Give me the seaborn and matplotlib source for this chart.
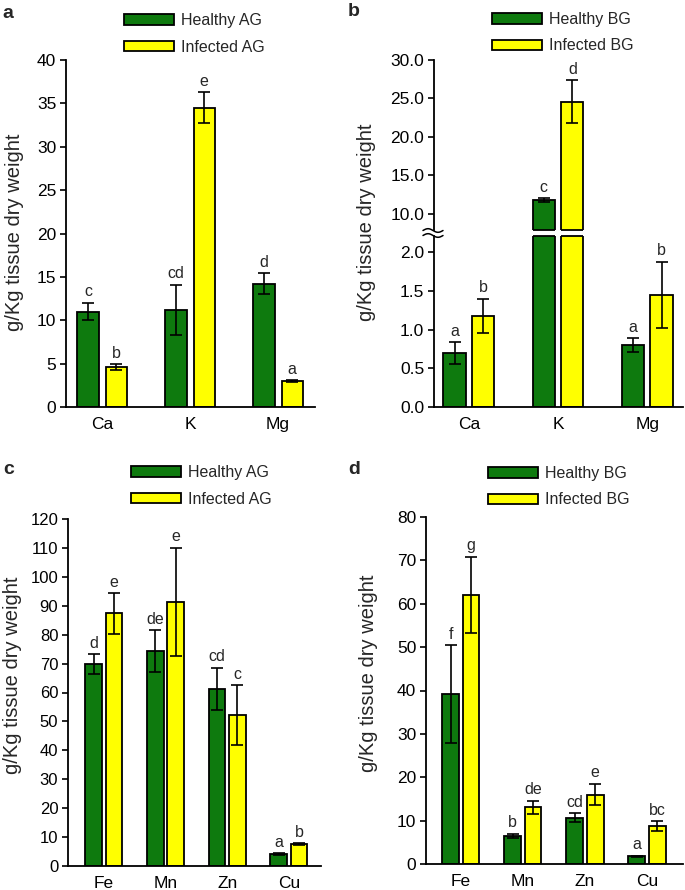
import matplotlib
matplotlib.use("Agg")
import matplotlib.pyplot as plt
from matplotlib.patches import Patch
from matplotlib.lines import Line2D
from matplotlib.ticker import FormatStrFormatter, MultipleLocator
import seaborn as sns
import pandas as pd
import numpy as np

sns.set_theme(style="ticks")
plt.rcParams['font.family'] = ['Liberation Sans', 'DejaVu Sans']

GREEN = '#0e7a0e'
YELLOW = '#ffff00'

# ---------------- data ----------------
macro = ["Ca", "K", "Mg"]
micro = ["Fe", "Mn", "Zn", "Cu"]

# panel a (above ground, macro)
a_healthy = [11.0, 11.2, 14.2]
a_healthy_err = [1.0, 2.9, 1.2]
a_infected = [4.6, 34.5, 3.0]
a_infected_err = [0.3, 1.8, 0.1]
a_letters_h = ["c", "cd", "d"]
a_letters_i = ["b", "e", "a"]

# panel b (below ground, macro)
b_healthy = [0.70, 11.8, 0.80]
b_healthy_err = [0.14, 0.25, 0.09]
b_infected = [1.18, 24.6, 1.45]
b_infected_err = [0.22, 2.8, 0.43]
b_letters_h = ["a", "c", "a"]
b_letters_i = ["b", "d", "b"]

# panel c (above ground, micro)
c_healthy = [69.8, 74.3, 61.2, 4.1]
c_healthy_err = [3.5, 7.2, 7.3, 0.3]
c_infected = [87.4, 91.3, 52.2, 7.5]
c_infected_err = [7.0, 18.7, 10.3, 0.3]
c_letters_h = ["d", "de", "cd", "a"]
c_letters_i = ["e", "e", "c", "b"]

# panel d (below ground, micro)
d_healthy = [39.1, 6.5, 10.7, 1.8]
d_healthy_err = [11.3, 0.5, 1.0, 0.1]
d_infected = [62.0, 13.1, 16.0, 8.7]
d_infected_err = [8.8, 1.5, 2.5, 1.1]
d_letters_h = ["f", "b", "cd", "a"]
d_letters_i = ["g", "de", "e", "bc"]

AG_labels = ["Healthy AG", "Infected AG"]
BG_labels = ["Healthy BG", "Infected BG"]

W, H = 685, 890
fig = plt.figure(figsize=(W / 100, H / 100), dpi=100)


def axes_px(l, t, r, b):
    return fig.add_axes([l / W, 1 - b / H, (r - l) / W, (b - t) / H])


def draw(ax, cats, hv, he, iv, ie, lh, li, labels, width, gap):
    n = len(cats)
    df = pd.DataFrame({
        "element": cats * 2,
        "group": [labels[0]] * n + [labels[1]] * n,
        "value": hv + iv,
    })
    sns.barplot(data=df, x="element", y="value", hue="group",
                palette=[GREEN, YELLOW], edgecolor="black", linewidth=1.3,
                width=width, gap=gap, errorbar=None, ax=ax, legend=False,
                saturation=1)
    bars = [p for p in ax.patches][:2 * n]
    for p, v, e, lt in zip(bars, hv + iv, he + ie, lh + li):
        xc = p.get_x() + p.get_width() / 2
        ax.errorbar(xc, v, yerr=e, fmt='none', ecolor='black',
                    elinewidth=1.2, capsize=4, capthick=1.2)
        ax.annotate(lt, (xc, v + e), xytext=(0, 2.5), textcoords='offset points',
                    ha='center', va='bottom', fontsize=11.5)
    ax.set_xlabel("")
    ax.set_ylabel("")
    return bars


def style(ax, ylab_size=12.5, xlab_size=12.5, bottom=True):
    sns.despine(ax=ax, bottom=not bottom)
    for s in ["left", "bottom"]:
        ax.spines[s].set_linewidth(1.3)
        ax.spines[s].set_color("black")
    ax.tick_params(axis='y', direction='out', length=4, width=1.2,
                   labelsize=ylab_size, colors='black', pad=3)
    ax.tick_params(axis='x', length=0, labelsize=xlab_size, pad=7, colors='black')


def legend(ax, labels, x, y):
    handles = [Patch(facecolor=GREEN, edgecolor='black', linewidth=1.3, label=labels[0]),
               Patch(facecolor=YELLOW, edgecolor='black', linewidth=1.3, label=labels[1])]
    ax.legend(handles=handles, loc='upper left', bbox_to_anchor=(x / W, 1 - y / H),
              bbox_transform=fig.transFigure, frameon=False, handlelength=3.1,
              handleheight=0.62, handletextpad=0.45, labelspacing=0.72,
              borderpad=0, borderaxespad=0, fontsize=11.5)


YLABEL = "g/Kg tissue dry weight"

# ---------- panel a ----------
ax_a = axes_px(66, 60, 315, 407)
draw(ax_a, macro, a_healthy, a_healthy_err, a_infected, a_infected_err,
     a_letters_h, a_letters_i, AG_labels, 0.64, 0.25)
ax_a.set_ylim(0, 40)
ax_a.set_xlim(-0.41, 2.42)
ax_a.yaxis.set_major_locator(MultipleLocator(5))
style(ax_a)
legend(ax_a, AG_labels, 124, 13)
fig.text(15 / W, 1 - 232 / H, YLABEL, rotation=90, ha='center', va='center', fontsize=14.5)
fig.text(8 / W, 1 - 14 / H, "a", fontsize=14, weight='bold', ha='center', va='center')

# ---------- panel b (broken axis) ----------
ax_bu = axes_px(434, 60, 683, 230)
ax_bl = axes_px(434, 236, 683, 407)
for axb, lo, hi in [(ax_bu, 7.92, 30), (ax_bl, 0, 2.21)]:
    bars = draw(axb, macro, b_healthy, b_healthy_err, b_infected, b_infected_err,
                b_letters_h, b_letters_i, BG_labels, 0.64, 0.22)
    axb.set_ylim(lo, hi)
    axb.set_xlim(-0.39, 2.40)
    # close bar outlines at the break
    for p in bars:
        top = p.get_y() + p.get_height()
        if top > hi and axb is ax_bl:
            axb.plot([p.get_x(), p.get_x() + p.get_width()], [hi, hi], color='black',
                     lw=1.3, clip_on=False, solid_capstyle='butt')
        if top > lo and axb is ax_bu:
            axb.plot([p.get_x(), p.get_x() + p.get_width()], [lo, lo], color='black',
                     lw=1.3, clip_on=False, solid_capstyle='butt')
style(ax_bu, bottom=False)
ax_bu.set_xticks([])
ax_bu.set_yticks([10, 15, 20, 25, 30])
ax_bu.yaxis.set_major_formatter(FormatStrFormatter('%.1f'))
style(ax_bl)
ax_bl.yaxis.set_major_locator(MultipleLocator(0.5))
ax_bl.yaxis.set_major_formatter(FormatStrFormatter('%.1f'))
legend(ax_bu, BG_labels, 492, 12)
fig.text(367 / W, 1 - 222 / H, YLABEL, rotation=90, ha='center', va='center', fontsize=14.5)
fig.text(354 / W, 1 - 12 / H, "b", fontsize=14, weight='bold', ha='center', va='center')

# break marks
xs = np.linspace(423, 443, 40)
for y0 in (230.5, 235.5):
    ys = y0 - 1.8 * np.sin((xs - 423) / 20 * 2 * np.pi)
    fig.add_artist(Line2D(xs / W, 1 - ys / H, color='black', lw=1.1,
                          transform=fig.transFigure))

# ---------- panel c ----------
ax_c = axes_px(68, 519, 321, 866)
draw(ax_c, micro, c_healthy, c_healthy_err, c_infected, c_infected_err,
     c_letters_h, c_letters_i, AG_labels, 0.66, 0.18)
ax_c.set_ylim(0, 120)
ax_c.set_xlim(-0.58, 3.52)
ax_c.yaxis.set_major_locator(MultipleLocator(10))
style(ax_c, ylab_size=12)
legend(ax_c, AG_labels, 131, 465)
fig.text(13 / W, 1 - 675 / H, YLABEL, rotation=90, ha='center', va='center', fontsize=14.5)
fig.text(9 / W, 1 - 469 / H, "c", fontsize=14, weight='bold', ha='center', va='center')

# ---------- panel d ----------
ax_d = axes_px(426, 517, 683, 864)
draw(ax_d, micro, d_healthy, d_healthy_err, d_infected, d_infected_err,
     d_letters_h, d_letters_i, BG_labels, 0.66, 0.18)
ax_d.set_ylim(0, 80)
ax_d.set_xlim(-0.56, 3.58)
ax_d.yaxis.set_major_locator(MultipleLocator(10))
style(ax_d)
legend(ax_d, BG_labels, 488, 466)
fig.text(368 / W, 1 - 673 / H, YLABEL, rotation=90, ha='center', va='center', fontsize=14.5)
fig.text(354 / W, 1 - 469 / H, "d", fontsize=14, weight='bold', ha='center', va='center')

fig.savefig("out.png", dpi=100, facecolor='white')
